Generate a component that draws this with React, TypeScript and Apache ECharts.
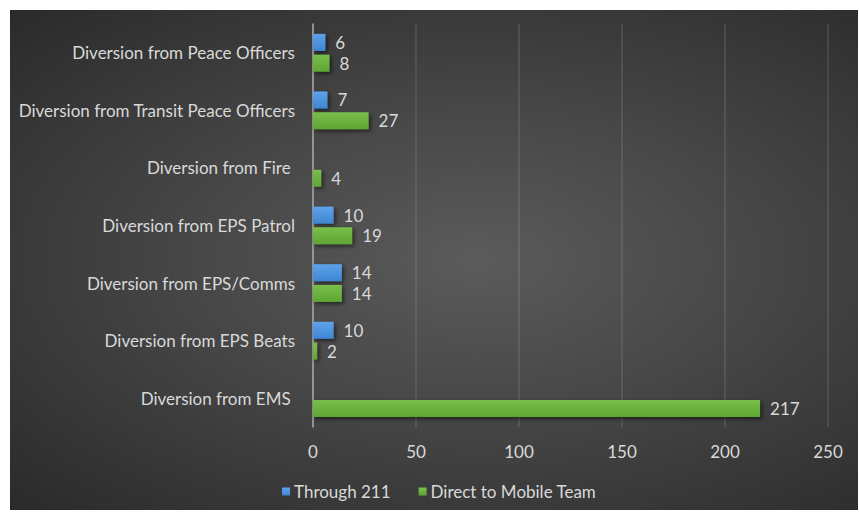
import React, { useEffect, useRef } from "react";
import * as echarts from "echarts";

const categories = [
  "Diversion from EMS ",
  "Diversion from EPS Beats",
  "Diversion from EPS/Comms",
  "Diversion from EPS Patrol",
  "Diversion from Fire ",
  "Diversion from Transit Peace Officers",
  "Diversion from Peace Officers",
];
const through211: (number | null)[] = [null, 10, 14, 10, null, 7, 6];
const directToMobile: number[] = [217, 2, 14, 19, 4, 27, 8];
const seriesNames = ["Through 211", "Direct to Mobile Team"];
const xTicks = { min: 0, max: 250, interval: 50 };

const FONT = "Lato";
const FS = 17;
const TEXT = "#d9d9d9";

export default function App() {
  const ref = useRef<HTMLDivElement>(null);
  useEffect(() => {
    if (!ref.current) return;
    const chart = echarts.init(ref.current, undefined, { renderer: "svg" });
    const barStyle = (c1: string, c2: string) => ({
      color: new echarts.graphic.LinearGradient(0, 0, 0, 1, [
        { offset: 0, color: c1 },
        { offset: 1, color: c2 },
      ]),
      shadowColor: "rgba(0,0,0,0.55)",
      shadowBlur: 4,
      shadowOffsetX: 2,
      shadowOffsetY: 2,
    });
    const label = {
      show: true,
      position: "right" as const,
      distance: 10,
      color: TEXT,
      fontFamily: FONT,
      fontSize: FS,
    };
    chart.setOption({
      animation: false,
      backgroundColor: "transparent",
      textStyle: { fontFamily: FONT },
      grid: { left: 313, right: 31, top: 24, bottom: 92, containLabel: false },
      legend: {
        data: seriesNames,
        bottom: 14,
        left: 277,
        icon: "rect",
        itemWidth: 8,
        itemHeight: 8,
        itemGap: 28,
        textStyle: { color: TEXT, fontFamily: FONT, fontSize: FS, padding: [0, 0, 0, -1] },
      },
      xAxis: {
        type: "value",
        min: xTicks.min,
        max: xTicks.max,
        interval: xTicks.interval,
        axisLine: { show: false },
        axisTick: { show: false },
        axisLabel: { color: TEXT, fontFamily: FONT, fontSize: FS, margin: 16 },
        splitLine: { show: true, lineStyle: { color: "rgba(255,255,255,0.13)", width: 1.5 } },
      },
      yAxis: {
        type: "category",
        data: categories,
        axisLine: { show: true, lineStyle: { color: "#a8a8a8", width: 1.5 } },
        axisTick: { show: false },
        axisLabel: { color: TEXT, fontFamily: FONT, fontSize: FS, margin: 18 },
      },
      series: [
        {
          name: seriesNames[0],
          type: "bar",
          data: through211,
          barWidth: 17,
          barGap: "22%",
          itemStyle: barStyle("#5ea2ea", "#3f86d2"),
          label,
        },
        {
          name: seriesNames[1],
          type: "bar",
          data: directToMobile,
          barWidth: 17,
          barGap: "22%",
          itemStyle: barStyle("#79bf4a", "#5fa534"),
          label,
        },
      ],
    });
    return () => chart.dispose();
  }, []);
  return (
    <div style={{ position: "fixed", left: 0, top: 0, width: 859, height: 519, background: "#ffffff" }}>
      <div
        style={{
          position: "absolute",
          left: 10,
          top: 10,
          width: 848,
          height: 500,
          background: "radial-gradient(ellipse at 55% 50%, #5b5b5b 0%, #464646 45%, #2a2a2a 100%)",
        }}
      />
      <div ref={ref} style={{ position: "absolute", left: 0, top: 0, width: 859, height: 519 }} />
    </div>
  );
}
